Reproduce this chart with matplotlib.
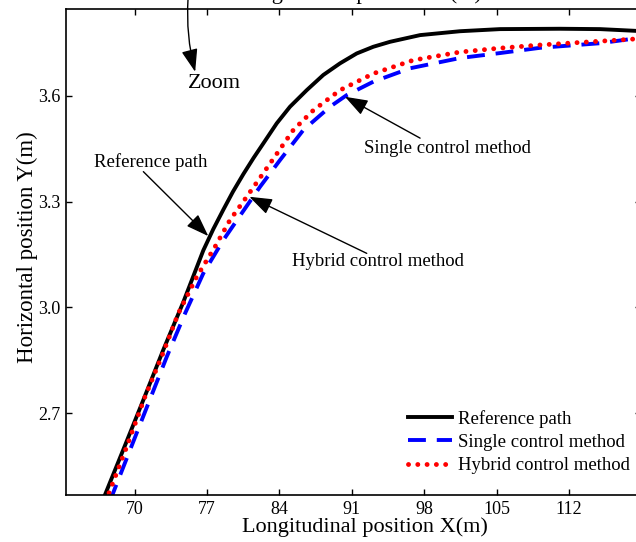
import matplotlib
matplotlib.use("Agg")
import matplotlib.pyplot as plt

plt.rcParams['font.family'] = ['Liberation Serif', 'DejaVu Serif']

# reference path (black)
ref_x = [66.9, 67.13, 68.90, 70.84, 72.77, 74.70, 76.64, 77.6, 78.57, 79.5, 80.51, 81.5, 82.44,
         83.74, 85.02, 86.64, 88.24, 89.86, 91.47, 93.08, 94.69, 97.60, 101.46, 105.33,
         111.1, 115.0, 119.2]
ref_y = [2.45, 2.469, 2.597, 2.738, 2.880, 3.015, 3.162, 3.222, 3.277, 3.328, 3.378, 3.424, 3.465,
         3.522, 3.569, 3.616, 3.659, 3.692, 3.720, 3.739, 3.753, 3.772, 3.783, 3.789,
         3.790, 3.789, 3.783]

# single control method (blue dashed)
single_x = [67.6, 67.78, 69.55, 71.32, 73.10, 74.87, 76.64, 78.57, 80.35, 82.12, 84.06, 86.31,
            88.89, 90.51, 93.08, 96.63, 101.46, 105.3, 109.2, 115.0, 118.5, 119.2]
single_y = [2.45, 2.464, 2.596, 2.728, 2.860, 2.983, 3.097, 3.191, 3.267, 3.342, 3.418, 3.503,
            3.569, 3.602, 3.640, 3.678, 3.707, 3.721, 3.736, 3.749, 3.763, 3.765]

# hybrid control method (red dotted)
hybrid_x = [67.2, 67.45, 69.23, 71.0, 72.6, 74.22, 76.0, 77.77, 79.22, 80.84, 83.09, 85.34,
            87.28, 89.86, 93.08, 96.95, 101.46, 105.3, 109.2, 113.5, 117.9, 119.2]
hybrid_y = [2.45, 2.469, 2.605, 2.747, 2.860, 2.983, 3.087, 3.172, 3.248, 3.314, 3.408, 3.503,
            3.559, 3.616, 3.663, 3.701, 3.724, 3.735, 3.744, 3.752, 3.760, 3.763]

x_ticks = [70, 77, 84, 91, 98, 105, 112]
y_ticks = [2.7, 3.0, 3.3, 3.6]

W, H = 636, 542
fig = plt.figure(figsize=(W / 100, H / 100), dpi=100)
ax = fig.add_axes([66 / W, 1 - 495 / H, 575.4 / W, 486 / H])

ax.plot(ref_x, ref_y, color='black', lw=2.8, label='Reference path')
ax.plot(single_x, single_y, color='blue', lw=2.8, linestyle=(0, (4.6, 2.8)),
        label='Single control method')
ax.plot(hybrid_x, hybrid_y, color='red', lw=3.5, linestyle=(0, (0.01, 1.9)),
        dash_capstyle='round', label='Hybrid control method')

ax.set_xlim(63.36, 119)
ax.set_ylim(2.4685, 3.846)
ax.set_xticks(x_ticks)
ax.set_yticks(y_ticks)
ax.set_yticklabels(["%.1f" % v for v in y_ticks])
ax.tick_params(direction='in', length=4, width=1, top=True, right=True,
               labelsize=13, pad=4)
for s in ax.spines.values():
    s.set_linewidth(1.2)

ax.set_xlabel('Longitudinal position X(m)', fontsize=16)
ax.xaxis.set_label_coords((365 - 66) / 575.4, -0.045)
ax.set_ylabel('Horizontal position Y(m)', fontsize=16.5)
ax.yaxis.set_label_coords(-0.0487, 0.51)

# cut-off title of the upper figure
fig.text(359 / W, 1 + 0.5 / H, 'Longitudinal position X(m)', fontsize=16,
         ha='center', va='baseline')

ax.legend(loc='upper left', bbox_to_anchor=(408 / W, 1 - 410 / H),
          bbox_transform=fig.transFigure, frameon=False, borderpad=0,
          borderaxespad=0, handlelength=2.35, handletextpad=0.32,
          labelspacing=0.32, fontsize=13.5)

arw = dict(arrowstyle='-|>,head_length=0.7,head_width=0.25', mutation_scale=20,
           color='black', lw=1, shrinkA=0, shrinkB=0)

ax.text(71.55, 3.413, 'Reference path', fontsize=13.5, ha='center', va='center')
ax.annotate('', xy=(77.12, 3.2024), xytext=(70.84, 3.385), arrowprops=arw)

ax.text(85.19, 3.1296, 'Hybrid control method', fontsize=13.5, ha='left', va='center')
ax.annotate('', xy=(81.09, 3.3138), xytext=(92.44, 3.1534), arrowprops=arw)

ax.text(92.18, 3.451, 'Single control method', fontsize=13.5, ha='left', va='center')
ax.annotate('', xy=(90.34, 3.5972), xytext=(97.60, 3.480), arrowprops=arw)

ax.text(77.67, 3.635, 'Zoom', fontsize=16, ha='center', va='center')
ax.annotate('', xy=(75.85, 3.668), xytext=(75.16, 3.875), annotation_clip=False,
            arrowprops=dict(arw, connectionstyle='arc3,rad=0.08'))

fig.savefig('out.png', dpi=100)
